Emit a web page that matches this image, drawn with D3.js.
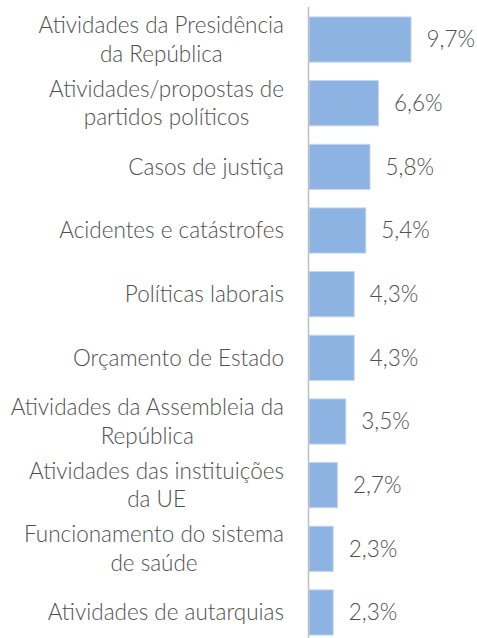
<!DOCTYPE html>
<html>
<head>
<meta charset="utf-8">
<script src="https://cdn.jsdelivr.net/npm/d3@7"></script>
<style>
  body { margin: 0; background: #fff; }
  svg text { font-family: Lato, "Open Sans", sans-serif; font-weight: 300; fill: #505050; }
</style>
</head>
<body>
<svg width="477" height="638"></svg>
<script>
// categories, top to bottom (lines split as wrapped in the chart)
const categories = [
  ["Atividades da Presidência", "da República"],
  ["Atividades/propostas de", "partidos políticos"],
  ["Casos de justiça"],
  ["Acidentes e catástrofes"],
  ["Políticas laborais"],
  ["Orçamento de Estado"],
  ["Atividades da Assembleia da", "República"],
  ["Atividades das instituições", "da UE"],
  ["Funcionamento do sistema", "de saúde"],
  ["Atividades de autarquias"],
];
const values = [9.7, 6.6, 5.8, 5.4, 4.3, 4.3, 3.5, 2.7, 2.3, 2.3];

let svg = d3.select("svg");

let fontSize = 22.5;
let lineH = 28.5;
let labelRight = 284;

let x = d3.scaleLinear().domain([0, 10]).range([308.5, 413.7]);
let y = d3
  .scaleBand()
  .domain(d3.range(categories.length))
  .range([7.7, 644.3])
  .paddingInner(0.29)
  .paddingOuter(0.145);

// bars
svg
  .append("g")
  .selectAll("rect")
  .data(values)
  .enter()
  .append("rect")
  .attr("x", x(0) + 0.5)
  .attr("y", (d, i) => y(i))
  .attr("width", (d) => x(d) - x(0))
  .attr("height", y.bandwidth())
  .attr("fill", "#8db3e2")
  .attr("stroke", "#c3d6f0")
  .attr("stroke-width", 1);

// axis line
svg
  .append("line")
  .attr("x1", x(0))
  .attr("x2", x(0))
  .attr("y1", 7)
  .attr("y2", 638)
  .attr("stroke", "#bfbfbf")
  .attr("stroke-width", 1.5);

// category labels: lines centred on each other, widest line ends at labelRight
let labels = svg
  .append("g")
  .selectAll("text")
  .data(categories)
  .enter()
  .append("text")
  .attr("font-size", fontSize)
  .attr("text-anchor", "middle");

labels.each(function (lines, i) {
  let t = d3.select(this);
  let cy = y(i) + y.bandwidth() / 2;
  let top = cy - ((lines.length - 1) * lineH) / 2;
  lines.forEach(function (s, j) {
    t.append("tspan")
      .attr("y", top + j * lineH)
      .attr("dy", "0.35em")
      .text(s);
  });
  let w = d3.max(t.selectAll("tspan").nodes(), (n) => n.getComputedTextLength());
  t.selectAll("tspan").attr("x", labelRight - w / 2);
});

// value labels
svg
  .append("g")
  .selectAll("text")
  .data(values)
  .enter()
  .append("text")
  .attr("font-size", fontSize)
  .attr("x", (d) => x(d) + 16)
  .attr("y", (d, i) => y(i) + y.bandwidth() / 2)
  .attr("dy", "0.35em")
  .text((d) => d.toFixed(1).replace(".", ",") + "%");
</script>
</body>
</html>
